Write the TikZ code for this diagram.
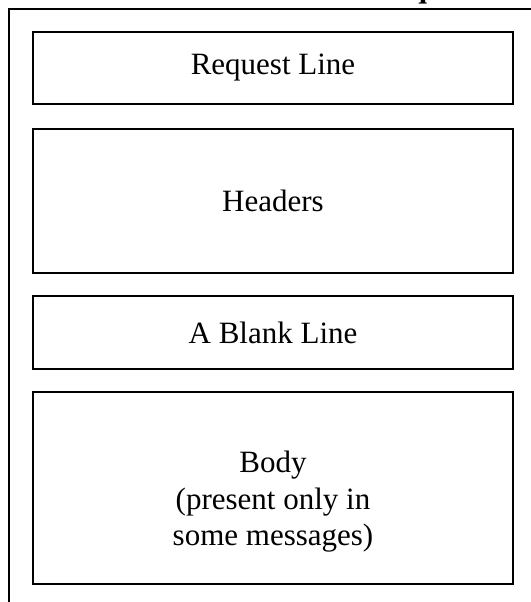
\documentclass[tikz,border=0pt]{standalone}
\usepackage{fontspec}
\setmainfont{Liberation Serif}
\begin{document}
\begin{tikzpicture}[x=1pt,y=-1pt,
  part/.style={draw,line width=1.6pt,minimum width=480pt,inner sep=0pt,outer sep=0pt,
    align=center,font=\fontsize{31}{36.5}\selectfont},
  label/.style={align=center,inner sep=0pt,font=\fontsize{31}{36.5}\selectfont},
  frame/.style={line width=1.8pt}]
\useasboundingbox (0,0) rectangle (530,602);
\draw[frame] (9,640) -- (9,9) -- (560,9);
\node[anchor=base east,font=\fontsize{31}{36}\selectfont\bfseries] (title) at (484,-2.5) {HTTP Request};
\node[part,minimum height=72pt] (reqline) at (273,68) {Request Line};
\node[part,minimum height=144pt] (headers) at (273,201) {Headers};
\node[part,minimum height=73pt] (blank) at (273,332.5) {A Blank Line};
\node[part,minimum height=192pt] (body) at (273,488) {};
\node[label] (bodytext) at (273,502) {Body\\(present only in\\some messages)};
\end{tikzpicture}
\end{document}
